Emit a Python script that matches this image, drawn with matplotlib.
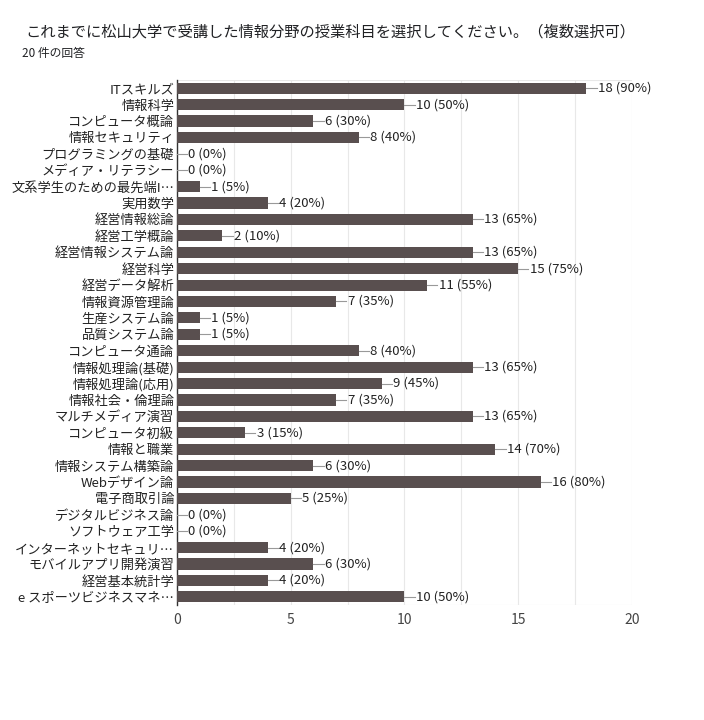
import numpy as np
import matplotlib; matplotlib.use('Agg')
import matplotlib.pyplot as plt

plt.rcParams['font.family'] = ['Noto Sans CJK JP', 'DejaVu Sans']

TITLE = 'これまでに松山大学で受講した情報分野の授業科目を選択してください。（複数選択可）'
SUBTITLE = '20 件の回答'
N_RESP = 20
LABELS = ['ITスキルズ', '情報科学', 'コンピュータ概論', '情報セキュリティ', 'プログラミングの基礎',
          'メディア・リテラシー', '文系学生のための最先端I…', '実用数学', '経営情報総論', '経営工学概論',
          '経営情報システム論', '経営科学', '経営データ解析', '情報資源管理論', '生産システム論',
          '品質システム論', 'コンピュータ通論', '情報処理論(基礎)', '情報処理論(応用)', '情報社会・倫理論',
          'マルチメディア演習', 'コンピュータ初級', '情報と職業', '情報システム構築論', 'Webデザイン論',
          '電子商取引論', 'デジタルビジネス論', 'ソフトウェア工学', 'インターネットセキュリ…',
          'モバイルアプリ開発演習', '経営基本統計学', 'e スポーツビジネスマネ…']
COUNTS = [18, 10, 6, 8, 0, 0, 1, 4, 13, 2, 13, 15, 11, 7, 1, 1, 8, 13, 9, 7, 13, 3, 14, 6, 16, 5, 0, 0, 4, 6, 4, 10]

fig = plt.figure(figsize=(7.04, 7.2), dpi=100)
ax = fig.add_axes([0.2514, 0.1597, 0.6463, 0.7292])
y = np.arange(len(LABELS))
ax.barh(y, COUNTS, height=0.68, color='#594f4f', zorder=3)
for yi, c in zip(y, COUNTS):
    ax.plot([c, c + 0.45], [yi, yi], color='#999999', lw=0.8, zorder=3)
    ax.text(c + 0.5, yi, f'{c} ({round(c / N_RESP * 100)}%)', va='center', ha='left',
            fontsize=9.5, color='#222222', zorder=4)
ax.set_xlim(0, 20)
ax.set_ylim(len(LABELS) - 0.5, -0.5)
ax.set_yticks(y)
ax.set_yticklabels(LABELS, fontsize=9.5, color='#222222')
ax.set_xticks([0, 5, 10, 15, 20])
ax.set_xticks(np.arange(0, 20.1, 2.5), minor=True)
ax.tick_params(axis='x', which='both', length=0, labelsize=10, labelcolor='#444444', pad=6)
ax.tick_params(axis='y', length=0, pad=2)
ax.grid(axis='x', which='both', color='#e8e8e8', lw=0.8, zorder=0)
for s in ['top', 'right', 'bottom']:
    ax.spines[s].set_visible(False)
ax.spines['left'].set_color('#333333')
ax.spines['left'].set_linewidth(1.0)
ax.axhline(len(LABELS) - 0.5, color='#e8e8e8', lw=0.8, zorder=0)
ax.axhline(-0.5, color='#e8e8e8', lw=0.8, zorder=0)

fig.text(25 / 704, 1 - 32 / 720, TITLE, fontsize=11, color='#202124', va='center', ha='left')
fig.text(22 / 704, 1 - 53 / 720, SUBTITLE, fontsize=8.5, color='#202124', va='center', ha='left')

fig.savefig('out.png', dpi=100)
